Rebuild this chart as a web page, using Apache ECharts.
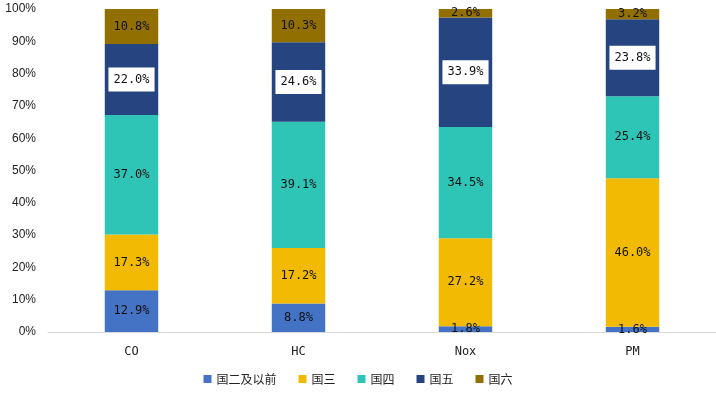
<!DOCTYPE html>
<html><head><meta charset="utf-8">
<script src="https://cdn.jsdelivr.net/npm/echarts@6/dist/echarts.min.js"></script>
<style>html,body{margin:0;padding:0;background:#fff}#c{width:716px;height:396px}</style>
</head><body><div id="c"></div>
<script>
const categories = ['CO', 'HC', 'Nox', 'PM'];
const seriesNames = ['国二及以前', '国三', '国四', '国五', '国六'];
const guo2 = [12.9, 8.8, 1.8, 1.6];
const guo3 = [17.3, 17.2, 27.2, 46.0];
const guo4 = [37.0, 39.1, 34.5, 25.4];
const guo5 = [22.0, 24.6, 33.9, 23.8];
const guo6 = [10.8, 10.3, 2.6, 3.2];
const yTicks = [0, 10, 20, 30, 40, 50, 60, 70, 80, 90, 100];
const colors = ['#4472C4', '#F2BA02', '#2EC4B6', '#254480', '#916F00'];
const values = [guo2, guo3, guo4, guo5, guo6];
const labelFont = '"DejaVu Sans Mono", monospace';
const chart = echarts.init(document.getElementById('c'), null, {renderer: 'canvas'});
chart.setOption({
  animation: false,
  color: colors,
  grid: {left: 48, right: 0, top: 9, bottom: 64},
  legend: {
    bottom: 6, left: 'center', itemWidth: 8, itemHeight: 8, itemGap: 22, icon: 'rect',
    textStyle: {fontFamily: '"Noto Sans CJK SC"', fontSize: 12, color: '#222'},
    data: seriesNames
  },
  xAxis: {
    type: 'category', data: categories,
    axisLine: {lineStyle: {color: '#d9d9d9'}},
    axisTick: {show: false},
    axisLabel: {color: '#222', fontSize: 12, margin: 14, fontFamily: labelFont}
  },
  yAxis: {
    type: 'value', min: 0, max: 100, interval: 10,
    splitLine: {show: false},
    axisLine: {show: false}, axisTick: {show: false},
    axisLabel: {formatter: v => yTicks.includes(v) ? v + '%' : '', color: '#222', fontSize: 12, margin: 12, fontFamily: 'Arial, "Liberation Sans"'}
  },
  series: seriesNames.map((n, i) => ({
    name: n, type: 'bar', stack: 'total', barWidth: '32%',
    data: values[i],
    label: {
      show: true, position: 'inside',
      formatter: p => p.value.toFixed(1) + '%',
      color: '#111', fontSize: 12, fontFamily: labelFont,
      backgroundColor: i === 3 ? '#fff' : 'transparent',
      padding: i === 3 ? [6, 5] : 0
    }
  }))
});
</script></body></html>
